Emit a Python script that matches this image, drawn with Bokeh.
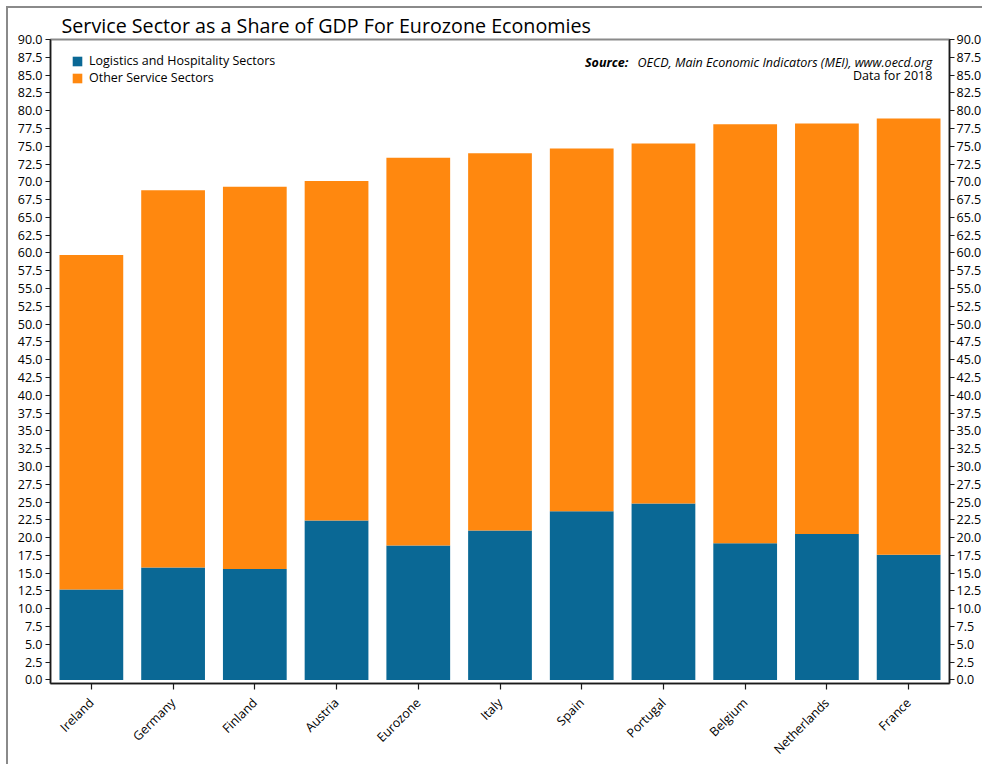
import math
from bokeh.plotting import figure
from bokeh.models import (ColumnDataSource, FixedTicker, NumeralTickFormatter, LinearAxis,
                          Label, Range1d, FactorRange)
from bokeh.embed import file_html
from bokeh.resources import INLINE

countries = ["Ireland", "Germany", "Finland", "Austria", "Eurozone", "Italy",
             "Spain", "Portugal", "Belgium", "Netherlands", "France"]
logistics = [12.7, 15.8, 15.6, 22.4, 18.9, 21.0, 23.7, 24.8, 19.2, 20.5, 17.6]
other = [47.0, 53.0, 53.7, 47.7, 54.5, 53.0, 51.0, 50.6, 58.9, 57.7, 61.3]
series_names = ["Logistics and Hospitality Sectors", "Other Service Sectors"]
y_tick_values = [i * 2.5 for i in range(37)]

BLUE = "#0a6895"
ORANGE = "#ff880f"
FONT = "Open Sans"

src = ColumnDataSource(data=dict(country=countries, logistics=logistics, other=other))

p = figure(width=976, height=758, output_backend="svg", toolbar_location=None,
           x_range=FactorRange(*countries, range_padding=0),
           y_range=Range1d(-0.5, 90),
           min_border_left=42, min_border_right=0, min_border_bottom=83, min_border_top=0,
           styles={"margin-left": "8px", "margin-top": "8px",
                   "box-shadow": "-2px -2px 0px 0px #8a8a8a"})

p.title.text = "Service Sector as a Share of GDP For Eurozone Economies"
p.title.text_font = FONT
p.title.text_font_size = "19.7px"
p.title.text_font_style = "normal"
p.title.text_color = "black"
p.title.align = "left"
p.title.offset = 11
p.title.standoff = 2

renderers = p.vbar_stack(["logistics", "other"], x="country", width=0.78, source=src,
                         color=[BLUE, ORANGE], line_width=0,
                         legend_label=series_names)

p.xgrid.visible = False
p.ygrid.visible = False
p.outline_line_color = "#8a8a8a"
p.outline_line_width = 2

ticker = FixedTicker(ticks=y_tick_values)
right_axis = LinearAxis()
p.add_layout(right_axis, "right")

for ax in [p.yaxis[0], right_axis]:
    ax.ticker = ticker
    ax.formatter = NumeralTickFormatter(format="0.0")
    ax.minor_tick_line_color = None
    ax.major_tick_in = 0
    ax.major_tick_out = 5
    ax.axis_line_color = "#1a1a1a"
    ax.axis_line_width = 1.5
    ax.major_tick_line_color = "#1a1a1a"
    ax.major_tick_line_width = 1.2
    ax.major_label_text_font = FONT
    ax.major_label_text_font_size = "12.5px"
    ax.major_label_text_color = "black"
    ax.major_label_standoff = 3
right_axis.major_label_standoff = 2

xa = p.xaxis[0]
xa.major_label_orientation = math.pi / 4
xa.major_tick_in = 0
xa.major_tick_out = 6
xa.axis_line_color = "#1a1a1a"
xa.axis_line_width = 1.5
xa.major_tick_line_color = "#1a1a1a"
xa.major_tick_line_width = 1.2
xa.minor_tick_line_color = None
xa.major_label_text_font = FONT
xa.major_label_text_font_size = "12.5px"
xa.major_label_text_color = "black"
xa.major_label_standoff = 11

lg = p.legend[0]
lg.location = (11, 587)
lg.border_line_alpha = 0
lg.background_fill_alpha = 0
lg.margin = 0
lg.padding = 10
lg.glyph_width = 12
lg.glyph_height = 12
lg.label_height = 12
lg.label_standoff = 6
lg.spacing = 0
lg.label_text_font = FONT
lg.label_text_font_size = "12.5px"
lg.label_text_color = "black"

src_label = Label(x=7.07, y=86.7, text="Source:", text_align="right", text_baseline="middle",
                  text_font=FONT, text_font_size="12.5px", text_font_style="bold italic",
                  text_color="black")
src_text = Label(x=10.79, y=86.7, text="OECD, Main Economic Indicators (MEI), www.oecd.org",
                 text_align="right", text_baseline="middle", text_font=FONT,
                 text_font_size="12.5px", text_font_style="italic", text_color="black")
year_text = Label(x=10.79, y=85.0, text="Data for 2018", text_align="right",
                  text_baseline="middle", text_font=FONT, text_font_size="12.5px",
                  text_color="black")
for lb in (src_label, src_text, year_text):
    p.add_layout(lb)

open("out.html", "w").write(file_html(p, INLINE))
